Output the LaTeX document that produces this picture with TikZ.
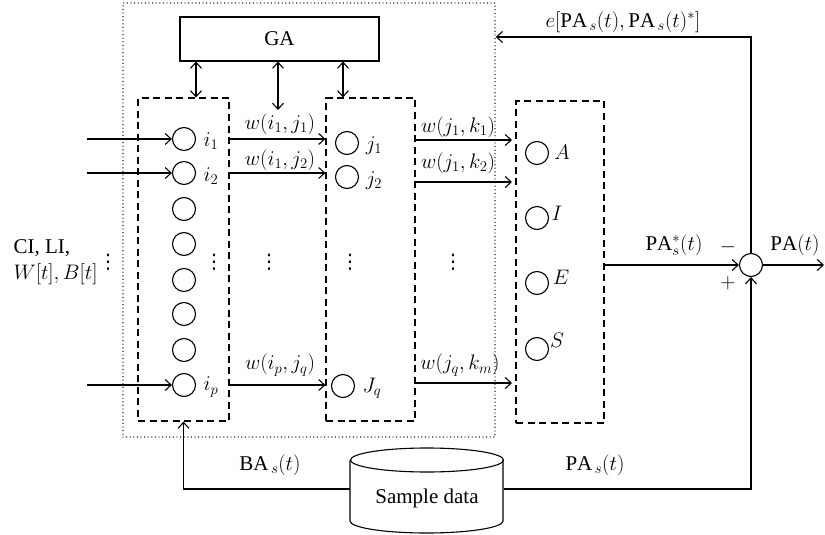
\RequirePackage{fix-cm}
\documentclass[tikz,border=0pt]{standalone}
\usepackage{fontspec}
\setmainfont{Liberation Serif}
\setmathrm{Liberation Serif}
\newfontfamily\symfont{DejaVu Sans}
\usetikzlibrary{arrows.meta}
\tikzset{
  every node/.style={font=\fontsize{21}{25}\selectfont},
  neuron/.style={circle, draw, minimum size=23pt, inner sep=0pt},
  layerbox/.style={draw, dash pattern=on 7pt off 4.5pt, inner sep=0pt},
  outerbox/.style={draw, line width=1.4pt, line cap=round, dash pattern=on 0pt off 3.6pt, inner sep=0pt},
  lbl/.style={inner sep=0pt},
  vdot/.style={inner sep=0pt, font=\symfont\fontsize{20}{24}\selectfont},
  arr/.style={-{Straight Barb[length=6pt,width=11pt]}},
  darr/.style={{Straight Barb[length=6pt,width=11pt]}-{Straight Barb[length=6pt,width=11pt]}},
}
\begin{document}
\begin{tikzpicture}[x=1pt,y=-1pt,line width=1.1pt]
\useasboundingbox (0,0) rectangle (825,535);
% boxes
\node[outerbox, minimum width=372pt, minimum height=434pt] (outer) at (309,220) {};
\node[draw, minimum width=199pt, minimum height=44pt] (ga) at (279.5,39) {GA};
\node[layerbox, minimum width=91pt, minimum height=323pt] (inbox) at (183.5,259.5) {};
\node[layerbox, minimum width=89pt, minimum height=323pt] (hidbox) at (370.5,259.5) {};
\node[layerbox, minimum width=88pt, minimum height=322pt] (outbox) at (560,262) {};
% neurons
\foreach \n/\y in {i1/139, i2/173, i3/209, i4/244, i5/280, i6/314, i7/350, ip/385}
  \node[neuron] (\n) at (184,\y) {};
\node[neuron] (j1) at (347,143) {};
\node[neuron] (j2) at (347,177) {};
\node[neuron] (jq) at (343,386) {};
\node[neuron] (kA) at (537,153) {};
\node[neuron] (kI) at (537,218) {};
\node[neuron] (kE) at (537,283) {};
\node[neuron] (kS) at (537,349) {};
\node[neuron] (sum) at (751,265) {};
% neuron labels
\node[lbl] at (211,141) {$i_1$};
\node[lbl] at (211,176) {$i_2$};
\node[lbl] at (211,387) {$i_p$};
\node[lbl] at (374,146) {$j_1$};
\node[lbl] at (374,181) {$j_2$};
\node[lbl] at (372,388) {$J_q$};
\node[lbl] at (562,152) {$A$};
\node[lbl] at (557,213) {$I$};
\node[lbl] at (561,277) {$E$};
\node[lbl] at (557,340) {$S$};
% dots
\node[vdot] at (108,262) {⋮};
\node[vdot] at (214,262) {⋮};
\node[vdot] at (269,262) {⋮};
\node[vdot] at (350,262) {⋮};
\node[vdot] at (453,262) {⋮};
% input text
\node[lbl, anchor=west] at (13,248) {CI, LI,};
\node[lbl, anchor=west] at (13,274) {$W[t], B[t]$};
% GA arrows
\coordinate (gx1) at (196,0);
\coordinate (gx2) at (278,110);
\coordinate (gx3) at (343,0);
\draw[darr] (ga.south -| gx1) -- (inbox.north -| gx1);
\draw[darr] (ga.south -| gx2) -- (gx2);
\draw[darr] (ga.south -| gx3) -- (hidbox.north -| gx3);
% inputs
\coordinate (x1) at (87,139);
\coordinate (x2) at (87,173);
\coordinate (xp) at (87,385);
\draw[arr] (x1) -- (i1);
\draw[arr] (x2) -- (i2);
\draw[arr] (xp) -- (ip);
% input -> hidden
\draw[arr] (inbox.east |- i1) -- (hidbox.west |- i1);
\draw[arr] (inbox.east |- i2) -- (hidbox.west |- i2);
\draw[arr] (inbox.east |- ip) -- (hidbox.west |- ip);
\node[lbl] at (280,124) {$w(i_1, j_1)$};
\node[lbl] at (280,160) {$w(i_1, j_2)$};
\node[lbl] at (280,365) {$w(i_p, j_q)$};
% hidden -> output
\coordinate (k1) at (512,140);
\coordinate (k2) at (512,182);
\coordinate (km) at (512,383);
\draw[arr] (hidbox.east |- k1) -- (k1);
\draw[arr] (hidbox.east |- k2) -- (k2);
\draw[arr] (hidbox.east |- km) -- (km);
\node[lbl] at (458,127) {$w(j_1,k_1)$};
\node[lbl] at (458,163) {$w(j_1,k_2)$};
\node[lbl] at (460,365) {$w(j_q,k_m)$};
% output -> sum
\draw[arr] (outbox.east |- sum) -- (sum);
\node[lbl] at (674,245) {$\mathrm{PA}_s^*(t)$};
\node[lbl] at (728,247) {$-$};
\node[lbl] at (728,283) {$+$};
\coordinate (out) at (824,265);
\draw[arr] (sum) -- (out);
\node[lbl] at (795,245) {$\mathrm{PA}(t)$};
% feedback
\coordinate (fb) at (0,37);
\draw[arr] (sum.north) |- (outer.east |- fb);
\node[lbl] at (623,22) {$e[\mathrm{PA}_{\,s}(t), \mathrm{PA}_{\,s}(t)^*]$};
% sample data cylinder
\node[lbl, minimum width=153pt, minimum height=85pt] (sd) at (427,489) {};
\draw (350,460) -- (350,521) arc[start angle=180, end angle=360, x radius=76.5pt, y radius=12pt] -- (503,460);
\draw (427,460) ellipse[x radius=76.5pt, y radius=12pt];
\node[lbl] at (427,498) {Sample data};
\draw[arr] (sd.west) -| (inbox.south);
\draw[arr] (sd.east) -| (sum.south);
\node[lbl] at (270,465) {$\mathrm{BA}_{\,s}(t)$};
\node[lbl] at (595,465) {$\mathrm{PA}_{\,s}(t)$};
\end{tikzpicture}
\end{document}
